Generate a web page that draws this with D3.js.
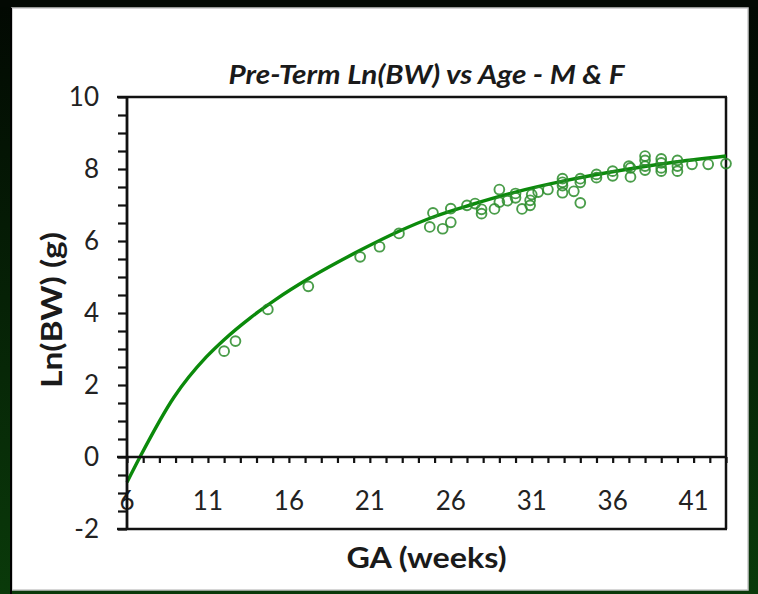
<!DOCTYPE html>
<html>
<head>
<meta charset="utf-8">
<script src="https://cdn.jsdelivr.net/npm/d3@7"></script>
<style>
  html, body { margin: 0; padding: 0; background: #061006; }
  svg { display: block; }
</style>
</head>
<body>
<svg id="chart" width="758" height="594"></svg>
<script>
// Observed birth weights: gestational age (weeks) and ln(birth weight in g)
const gaWeeks = [12.0, 12.7, 14.7, 17.2, 20.4, 21.6, 22.8, 24.9, 24.7, 25.5,
  26.0, 26.0, 27.0, 27.5, 27.9, 27.9, 28.7, 29.0, 29.0, 29.5,
  30.0, 30.0, 30.4, 30.9, 30.9, 31.0, 31.4, 32.0, 32.9, 32.9,
  32.9, 32.9, 33.6, 34.0, 34.0, 34.0, 35.0, 35.0, 36.0, 36.0,
  37.0, 37.1, 37.1, 38.0, 38.0, 38.0, 38.0, 39.0, 39.0, 39.0,
  39.0, 40.0, 40.0, 40.0, 40.9, 41.9, 43.0];
const lnBW = [2.94, 3.22, 4.10, 4.74, 5.56, 5.84, 6.21, 6.78, 6.39, 6.34,
  6.90, 6.52, 6.99, 7.04, 6.88, 6.76, 6.89, 7.43, 7.08, 7.12,
  7.32, 7.20, 6.89, 6.99, 7.13, 7.29, 7.36, 7.43, 7.34, 7.73,
  7.63, 7.54, 7.38, 7.06, 7.73, 7.63, 7.85, 7.76, 7.94, 7.81,
  8.08, 8.03, 7.78, 8.36, 8.24, 8.08, 7.97, 8.28, 8.17, 8.03,
  7.94, 8.24, 8.08, 7.94, 8.13, 8.13, 8.15];

// Fitted growth curve
const fitGA = [6, 6.8, 8.9, 10.9, 12, 13.6, 15.2, 17.2, 20.4, 22.8, 25, 27.2, 30, 33, 37, 40, 43];
const fitLnBW = [-0.7, 0, 1.66, 2.78, 3.26, 3.86, 4.38, 4.95, 5.74, 6.27, 6.68, 7.0, 7.36, 7.67, 8.0, 8.2, 8.36];

// Axis ticks
const xTickValues = [6, 11, 16, 21, 26, 31, 36, 41];
const yTickValues = [-2, 0, 2, 4, 6, 8, 10];

const chartTitle = "Pre-Term Ln(BW) vs Age - M & F";
const xTitle = "GA (weeks)";
const yTitle = "Ln(BW) (g)";

const W = 758, H = 594;
const plot = { left: 127, right: 726, top: 97, bottom: 529 };
const FONT = "Lato, 'Open Sans', sans-serif";
const GREEN = "#0b8a0b";
const MARK = "#2a8c2a";

const svg = d3.select("#chart");

// Window background and white panel
const defs = svg.append("defs");
const bg = defs.append("linearGradient").attr("id", "bg").attr("x1", 0).attr("y1", 0).attr("x2", 0).attr("y2", 1);
bg.append("stop").attr("offset", "0%").attr("stop-color", "#020802");
bg.append("stop").attr("offset", "100%").attr("stop-color", "#0a3a0a");
svg.append("rect").attr("width", W).attr("height", H).attr("fill", "url(#bg)");
svg.append("rect").attr("x", 0).attr("y", 0).attr("width", W).attr("height", 7).attr("fill", "#030903");
svg.append("rect").attr("x", 12).attr("y", 8).attr("width", 736).attr("height", 582)
  .attr("fill", "#ffffff").attr("stroke", "#c8c8c8").attr("stroke-width", 1.5);
svg.append("line").attr("x1", 11).attr("x2", 11).attr("y1", 8).attr("y2", 594)
  .attr("stroke", "#000").attr("stroke-width", 2);

const x = d3.scaleLinear().domain([6, 43]).range([plot.left, plot.right]);
const y = d3.scaleLinear().domain([-2, 10]).range([plot.bottom, plot.top]);

// Frame of the plot area (top, right, bottom)
const frame = svg.append("g").attr("stroke", "#111").attr("stroke-width", 2.5).attr("fill", "none");
frame.append("line").attr("x1", plot.left - 10).attr("x2", plot.right + 1).attr("y1", y(10)).attr("y2", y(10));
frame.append("line").attr("x1", plot.right).attr("x2", plot.right).attr("y1", y(10)).attr("y2", y(-2));
frame.append("line").attr("x1", plot.left - 10).attr("x2", plot.right + 1).attr("y1", y(-2)).attr("y2", y(-2));

// Fitted curve
const fitPts = fitGA.map((g, i) => [g, fitLnBW[i]]);
svg.append("path")
  .datum(fitPts)
  .attr("fill", "none")
  .attr("stroke", GREEN)
  .attr("stroke-width", 3.4)
  .attr("stroke-linejoin", "round")
  .attr("d", d3.line().x(d => x(d[0])).y(d => y(d[1])).curve(d3.curveMonotoneX));

// Observed points as open circles
svg.append("g").selectAll("circle")
  .data(gaWeeks.map((g, i) => [g, lnBW[i]]))
  .join("circle")
  .attr("cx", d => x(d[0]))
  .attr("cy", d => y(d[1]))
  .attr("r", 4.9)
  .attr("fill", "none")
  .attr("stroke", MARK)
  .attr("stroke-opacity", 0.85)
  .attr("stroke-width", 1.9);

// X axis along y = 0, with minor ticks each week
const xAxisG = svg.append("g").attr("transform", `translate(0,${y(0)})`);
xAxisG.call(d3.axisBottom(x).tickValues(d3.range(6, 44, 1)).tickSize(6).tickFormat(""))
  .call(g => g.select(".domain").remove())
  .call(g => g.selectAll(".tick line").attr("stroke", "#111").attr("stroke-width", 2.2));
xAxisG.append("line").attr("x1", plot.left - 10).attr("x2", plot.right).attr("y1", 0).attr("y2", 0)
  .attr("stroke", "#111").attr("stroke-width", 2.5);

// X tick labels, placed low between 0 and -2
svg.append("g").selectAll("text")
  .data(xTickValues)
  .join("text")
  .attr("x", d => x(d))
  .attr("y", 510)
  .attr("text-anchor", "middle")
  .attr("font-family", FONT)
  .attr("font-size", 26)
  .attr("fill", "#222")
  .text(d => d);

// Y axis with minor ticks every 0.5
const yAxisG = svg.append("g").attr("transform", `translate(${plot.left},0)`);
yAxisG.call(d3.axisLeft(y).tickValues(d3.range(-2, 10.01, 0.5)).tickSize(9).tickFormat(""))
  .call(g => g.select(".domain").remove())
  .call(g => g.selectAll(".tick line").attr("stroke", "#111").attr("stroke-width", 2.2));
yAxisG.append("line").attr("x1", 0).attr("x2", 0).attr("y1", y(10)).attr("y2", y(-2))
  .attr("stroke", "#111").attr("stroke-width", 2.8);

svg.append("g").selectAll("text")
  .data(yTickValues)
  .join("text")
  .attr("x", 99)
  .attr("y", d => y(d))
  .attr("dy", "0.35em")
  .attr("text-anchor", "end")
  .attr("font-family", FONT)
  .attr("font-size", 26)
  .attr("fill", "#222")
  .text(d => d);

// Titles
svg.append("text")
  .attr("x", (plot.left + plot.right) / 2)
  .attr("y", 84)
  .attr("text-anchor", "middle")
  .attr("font-family", FONT)
  .attr("font-size", 27)
  .attr("font-weight", "bold")
  .attr("font-style", "italic")
  .attr("fill", "#1a1a1a")
  .attr("textLength", 396)
  .attr("lengthAdjust", "spacingAndGlyphs")
  .text(chartTitle);

svg.append("text")
  .attr("x", (plot.left + plot.right) / 2)
  .attr("y", 568)
  .attr("text-anchor", "middle")
  .attr("font-family", FONT)
  .attr("font-size", 29)
  .attr("font-weight", "bold")
  .attr("fill", "#1a1a1a")
  .attr("textLength", 160)
  .attr("lengthAdjust", "spacingAndGlyphs")
  .text(xTitle);

svg.append("text")
  .attr("transform", `translate(62,310) rotate(-90)`)
  .attr("text-anchor", "middle")
  .attr("font-family", FONT)
  .attr("font-size", 28)
  .attr("font-weight", "bold")
  .attr("fill", "#1a1a1a")
  .attr("textLength", 156)
  .attr("lengthAdjust", "spacingAndGlyphs")
  .text(yTitle);
</script>
</body>
</html>
